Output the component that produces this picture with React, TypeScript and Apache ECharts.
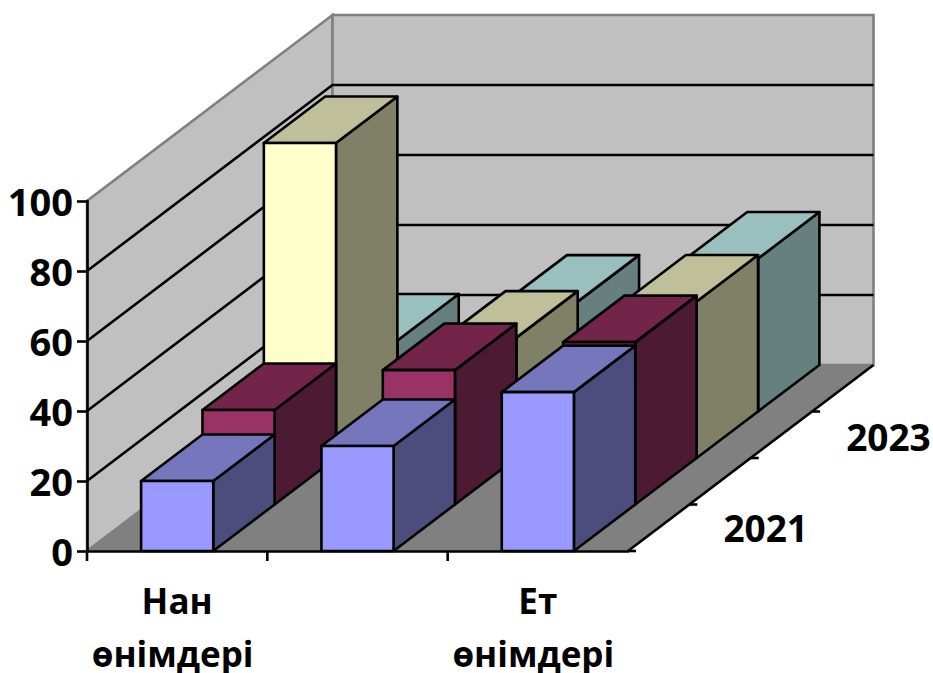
import React, { useEffect, useRef } from "react";
import * as echarts from "echarts";

const categories = ["Нан\nөнімдері ", "", "Ет\nөнімдері "];
const years = ["2021", "2022", "2023", "2024"];
const visibleYears = ["2021", "2023"];
const yTicks = [0, 20, 40, 60, 80, 100];

const values2021 = [20, 30, 45.4];
const values2022 = [27, 38.4, 46.4];
const values2023 = [90, 34.4, 44.7];
const values2024 = [20.3, 31.4, 43.7];
const allValues = [values2021, values2022, values2023, values2024];

const faceColors = [
  { front: "#9999FF", top: "#7676BC", side: "#4D4D7D" },
  { front: "#993366", top: "#722548", side: "#4C1A33" },
  { front: "#FFFFCC", top: "#BFBF99", side: "#808066" },
  { front: "#CCFFFF", top: "#99BFBF", side: "#668080" },
];

const DEPTH_X = 245.5;
const DEPTH_Y = -186;
const BAR_RATIO = 0.4;
const FONT = '"Open Sans", sans-serif';
const STROKE = 2.6;

const option: any = {
  animation: false,
  backgroundColor: "#fff",
  grid: { left: 87, top: 201, width: 541, height: 350, containLabel: false, outerBoundsMode: "none" },
  xAxis: {
    type: "category",
    data: categories,
    z: 1,
    axisLine: { lineStyle: { color: "#000", width: 2.6 } },
    axisTick: { show: false },
    axisLabel: {
      interval: 0,
      color: "#000",
      fontFamily: FONT,
      fontWeight: "bold",
      fontSize: 35,
      lineHeight: 53,
      margin: 23,
    },
  },
  yAxis: {
    type: "value",
    min: 0,
    max: 100,
    interval: 20,
    z: 1,
    splitLine: { show: false },
    axisLine: { show: true, lineStyle: { color: "#000", width: 2.6 } },
    axisTick: { show: true, length: 10, lineStyle: { color: "#000", width: 2.6 } },
    axisLabel: {
      color: "#000",
      fontFamily: FONT,
      fontWeight: "bold",
      fontSize: 38,
      margin: 14,
    },
  },
  series: [
    {
      type: "custom",
      name: "frame",
      z: 0,
      silent: true,
      data: [[0, 0]],
      encode: { x: 0, y: 1 },
      renderItem: (params: any, api: any) => {
        const cs = params.coordSys;
        const x0 = cs.x;
        const x1 = cs.x + cs.width;
        const yAt = (v: number) => api.coord([0, v])[1];
        const y0 = yAt(0);
        const yTop = yAt(100);
        const wallStyle = { fill: "#C0C0C0", stroke: "#808080", lineWidth: STROKE };
        const children: any[] = [
          {
            type: "polygon",
            shape: { points: [[x0, y0], [x0 + DEPTH_X, y0 + DEPTH_Y], [x0 + DEPTH_X, yTop + DEPTH_Y], [x0, yTop]] },
            style: wallStyle,
          },
          {
            type: "polygon",
            shape: {
              points: [
                [x0 + DEPTH_X, y0 + DEPTH_Y],
                [x1 + DEPTH_X, y0 + DEPTH_Y],
                [x1 + DEPTH_X, yTop + DEPTH_Y],
                [x0 + DEPTH_X, yTop + DEPTH_Y],
              ],
            },
            style: wallStyle,
          },
          {
            type: "polygon",
            shape: { points: [[x0, y0], [x1, y0], [x1 + DEPTH_X, y0 + DEPTH_Y], [x0 + DEPTH_X, y0 + DEPTH_Y]] },
            style: { fill: "#808080", stroke: "#808080", lineWidth: 1 },
          },
        ];
        yTicks.slice(1, -1).forEach((v) => {
          const y = yAt(v);
          children.push({
            type: "polyline",
            shape: { points: [[x0, y], [x0 + DEPTH_X, y + DEPTH_Y], [x1 + DEPTH_X, y + DEPTH_Y]] },
            style: { fill: "none", stroke: "#000", lineWidth: STROKE },
          });
        });
        // Front-right floor edge, category ticks and depth ticks
        children.push({
          type: "line",
          shape: { x1: x1, y1: y0, x2: x1 + DEPTH_X, y2: y0 + DEPTH_Y },
          style: { stroke: "#000", lineWidth: STROKE },
        });
        categories.forEach((_, i) => {
          const x = x0 + (cs.width * i) / categories.length;
          children.push({
            type: "line",
            shape: { x1: x, y1: y0, x2: x, y2: y0 + 10 },
            style: { stroke: "#000", lineWidth: STROKE },
          });
        });
        years.forEach((_, i) => {
          const px = x1 + (DEPTH_X * i) / years.length;
          const py = y0 + (DEPTH_Y * i) / years.length;
          children.push({
            type: "line",
            shape: { x1: px, y1: py, x2: px + 8, y2: py },
            style: { stroke: "#000", lineWidth: STROKE },
          });
        });
        years.forEach((year, i) => {
          if (!visibleYears.includes(year)) return;
          children.push({
            type: "text",
            style: {
              text: year,
              x: x1 + (DEPTH_X * (i + 0.5)) / years.length + 107,
              y: y0 + (DEPTH_Y * (i + 0.5)) / years.length + (i === 0 ? 0 : 2),
              fill: "#000",
              font: `bold 37px ${FONT}`,
              textAlign: "center",
              textVerticalAlign: "middle",
            },
          });
        });
        return { type: "group", children };
      },
    },
    ...[3, 2, 1, 0].map((row) => ({
      type: "custom",
      name: years[row],
      z: 2 + (3 - row),
      silent: true,
      data: allValues[row].map((v, i) => [i, v]),
      encode: { x: 0, y: 1 },
      renderItem: (_params: any, api: any) => {
        const cat = api.value(0);
        const val = api.value(1);
        const band = api.size([1, 0])[0];
        const w = band * BAR_RATIO;
        const [cx, yv] = api.coord([cat, val]);
        const [, ybase] = api.coord([cat, 0]);
        const dx = DEPTH_X / years.length;
        const dy = DEPTH_Y / years.length;
        const l = cx - w / 2 + dx * row;
        const r = l + w;
        const t = yv + dy * row;
        const b = ybase + dy * row;
        const c = faceColors[row];
        const st = (fill: string) => ({ fill, stroke: "#000", lineWidth: STROKE, lineJoin: "round" });
        return {
          type: "group",
          children: [
            { type: "polygon", shape: { points: [[r, t], [r + dx, t + dy], [r + dx, b + dy], [r, b]] }, style: st(c.side) },
            { type: "polygon", shape: { points: [[l, t], [r, t], [r + dx, t + dy], [l + dx, t + dy]] }, style: st(c.top) },
            { type: "polygon", shape: { points: [[l, t], [r, t], [r, b], [l, b]] }, style: st(c.front) },
          ],
        };
      },
    })),
  ],
};

export default function App() {
  const ref = useRef<HTMLDivElement>(null);
  useEffect(() => {
    const chart = echarts.init(ref.current!, undefined, { renderer: "svg" });
    chart.setOption(option);
    return () => chart.dispose();
  }, []);
  return <div ref={ref} style={{ position: "fixed", left: 0, top: 0, width: 933, height: 673 }} />;
}
